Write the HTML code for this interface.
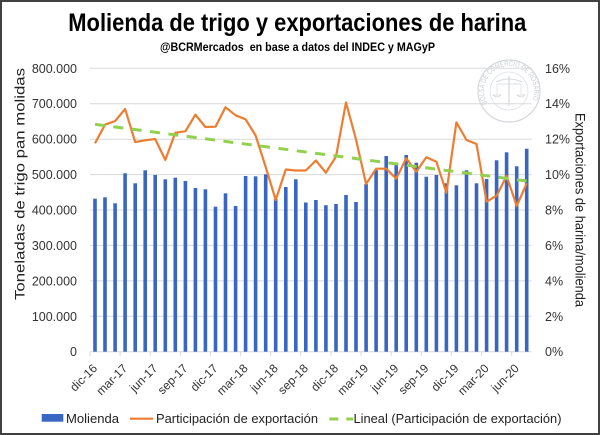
<!DOCTYPE html>
<html>
<head>
<meta charset="utf-8">
<style>
  html,body{margin:0;padding:0;background:#fff;}
  svg{display:block;}
  text{font-family:"Liberation Sans",Arial,sans-serif;}
</style>
</head>
<body>
<svg width="600" height="435" viewBox="0 0 600 435" xmlns="http://www.w3.org/2000/svg">
  <rect x="0" y="0" width="600" height="435" fill="#fff"/>
  <rect x="1" y="1" width="598" height="433" fill="none" stroke="#404040" stroke-width="2"/>

  <!-- Title -->
  <text x="68.3" y="31" font-size="25" font-weight="bold" fill="#000" textLength="458" lengthAdjust="spacingAndGlyphs">Molienda de trigo y exportaciones de harina</text>
  <text x="160" y="51" font-size="11.5" font-weight="bold" fill="#000" textLength="275" lengthAdjust="spacingAndGlyphs">@BCRMercados&#160; en base a datos del INDEC y MAGyP</text>

  <!-- Watermark seal -->
  <defs>
    <path id="sealArc" d="M 487.35 103.5 A 25 25 0 1 1 530.65 103.5"/>
  </defs>
  <g opacity="0.6">
    <circle cx="509" cy="91" r="31" fill="none" stroke="#b9bdc6" stroke-width="1.2"/>
    <circle cx="509" cy="91" r="19" fill="none" stroke="#c8ccd3" stroke-width="0.8"/>
    <text font-size="7.5" fill="#a9afb9" textLength="100" lengthAdjust="spacingAndGlyphs"><textPath href="#sealArc" startOffset="0" textLength="100" lengthAdjust="spacingAndGlyphs">BOLSA DE COMERCIO DE ROSARIO</textPath></text>
    <line x1="509" y1="76" x2="509" y2="106" stroke="#b9bdc6" stroke-width="1.2"/>
    <path d="M496 82 Q509 76 522 82" fill="none" stroke="#b9bdc6" stroke-width="1"/>
    <line x1="497" y1="84" x2="521" y2="84" stroke="#b9bdc6" stroke-width="0.8"/>
    <path d="M493 95 Q497 99 501 95 Z M517 95 Q521 99 525 95 Z" fill="none" stroke="#b9bdc6" stroke-width="0.8"/>
    <line x1="497" y1="84" x2="497" y2="95" stroke="#b9bdc6" stroke-width="0.6"/>
    <line x1="521" y1="84" x2="521" y2="95" stroke="#b9bdc6" stroke-width="0.6"/>
  </g>

  <!-- Gridlines -->
  <g stroke="#d9d9d9" stroke-width="1">
    <line x1="90" y1="68.3" x2="531.7" y2="68.3"/>
    <line x1="90" y1="103.7" x2="531.7" y2="103.7"/>
    <line x1="90" y1="139.2" x2="531.7" y2="139.2"/>
    <line x1="90" y1="174.6" x2="531.7" y2="174.6"/>
    <line x1="90" y1="210.0" x2="531.7" y2="210.0"/>
    <line x1="90" y1="245.4" x2="531.7" y2="245.4"/>
    <line x1="90" y1="280.9" x2="531.7" y2="280.9"/>
    <line x1="90" y1="316.3" x2="531.7" y2="316.3"/>
    <line x1="90" y1="351.7" x2="531.7" y2="351.7"/>
  </g>
  <!-- x ticks -->
  <g stroke="#d9d9d9" stroke-width="1">
    <line x1="90" y1="351.7" x2="90" y2="356"/>
    <line x1="120.1" y1="351.7" x2="120.1" y2="356"/>
    <line x1="150.2" y1="351.7" x2="150.2" y2="356"/>
    <line x1="180.4" y1="351.7" x2="180.4" y2="356"/>
    <line x1="210.5" y1="351.7" x2="210.5" y2="356"/>
    <line x1="240.6" y1="351.7" x2="240.6" y2="356"/>
    <line x1="270.7" y1="351.7" x2="270.7" y2="356"/>
    <line x1="300.8" y1="351.7" x2="300.8" y2="356"/>
    <line x1="331.0" y1="351.7" x2="331.0" y2="356"/>
    <line x1="361.1" y1="351.7" x2="361.1" y2="356"/>
    <line x1="391.2" y1="351.7" x2="391.2" y2="356"/>
    <line x1="421.3" y1="351.7" x2="421.3" y2="356"/>
    <line x1="451.4" y1="351.7" x2="451.4" y2="356"/>
    <line x1="481.6" y1="351.7" x2="481.6" y2="356"/>
    <line x1="511.7" y1="351.7" x2="511.7" y2="356"/>
  </g>

  <!-- Bars -->
  <g fill="#3866c2">
    <rect x="93.2" y="198.7" width="3.6" height="153"/>
    <rect x="103.2" y="197.3" width="3.6" height="154.4"/>
    <rect x="113.3" y="203.3" width="3.6" height="148.4"/>
    <rect x="123.3" y="173.3" width="3.6" height="178.4"/>
    <rect x="133.4" y="183.3" width="3.6" height="168.4"/>
    <rect x="143.4" y="170.3" width="3.6" height="181.4"/>
    <rect x="153.4" y="175" width="3.6" height="176.7"/>
    <rect x="163.5" y="179.3" width="3.6" height="172.4"/>
    <rect x="173.5" y="177.7" width="3.6" height="174"/>
    <rect x="183.6" y="181" width="3.6" height="170.7"/>
    <rect x="193.6" y="188" width="3.6" height="163.7"/>
    <rect x="203.6" y="189.3" width="3.6" height="162.4"/>
    <rect x="213.7" y="206.7" width="3.6" height="145"/>
    <rect x="223.7" y="193.3" width="3.6" height="158.4"/>
    <rect x="233.8" y="206" width="3.6" height="145.7"/>
    <rect x="243.8" y="176" width="3.6" height="175.7"/>
    <rect x="253.8" y="176.3" width="3.6" height="175.4"/>
    <rect x="263.9" y="174.3" width="3.6" height="177.4"/>
    <rect x="273.9" y="199" width="3.6" height="152.7"/>
    <rect x="284.0" y="187" width="3.6" height="164.7"/>
    <rect x="294.0" y="179.3" width="3.6" height="172.4"/>
    <rect x="304.0" y="202.5" width="3.6" height="149.2"/>
    <rect x="314.1" y="200" width="3.6" height="151.7"/>
    <rect x="324.1" y="205.2" width="3.6" height="146.5"/>
    <rect x="334.2" y="204" width="3.6" height="147.7"/>
    <rect x="344.2" y="195" width="3.6" height="156.7"/>
    <rect x="354.2" y="202" width="3.6" height="149.7"/>
    <rect x="364.3" y="184" width="3.6" height="167.7"/>
    <rect x="374.3" y="170" width="3.6" height="181.7"/>
    <rect x="384.4" y="156" width="3.6" height="195.7"/>
    <rect x="394.4" y="164.3" width="3.6" height="187.4"/>
    <rect x="404.4" y="155" width="3.6" height="196.7"/>
    <rect x="414.5" y="162.7" width="3.6" height="189"/>
    <rect x="424.5" y="176.7" width="3.6" height="175"/>
    <rect x="434.6" y="175" width="3.6" height="176.7"/>
    <rect x="444.6" y="183.3" width="3.6" height="168.4"/>
    <rect x="454.6" y="185.3" width="3.6" height="166.4"/>
    <rect x="464.7" y="170.3" width="3.6" height="181.4"/>
    <rect x="474.7" y="183.3" width="3.6" height="168.4"/>
    <rect x="484.8" y="179" width="3.6" height="172.7"/>
    <rect x="494.8" y="160.3" width="3.6" height="191.4"/>
    <rect x="504.8" y="152.3" width="3.6" height="199.4"/>
    <rect x="514.9" y="166.3" width="3.6" height="185.4"/>
    <rect x="524.9" y="148.7" width="3.6" height="203"/>
  </g>

  <!-- Orange line -->
  <polyline fill="none" stroke="#ed7d31" stroke-width="2.2" stroke-linejoin="round" points="
    95.0,143.3 105.0,124.7 115.1,121 125.1,109 135.2,142 145.2,140.3 155.2,139 165.3,160 175.3,132.7 185.4,131.3
    195.4,114.7 205.4,127 215.5,126.7 225.5,107.3 235.6,115.3 245.6,119.3 255.6,135.5 265.7,167 275.7,200 285.8,169.5
    295.8,170.5 305.8,170.5 315.9,160.5 325.9,172.7 336.0,156.5 346.0,102.5 356.0,139.5 366.1,184 376.1,168.7 386.2,168.7
    396.2,178.7 406.2,158.3 416.3,171.7 426.3,157.3 436.4,161.7 446.4,192.7 456.4,122.3 466.5,140 476.5,144 486.6,201.7
    496.6,195.7 506.6,176 516.7,206 526.7,183.3"/>

  <!-- Trend line -->
  <line x1="95" y1="124.3" x2="526.7" y2="181" stroke="#92d050" stroke-width="3" stroke-dasharray="10 8.5"/>

  <!-- Left axis labels -->
  <g font-size="12.5" fill="#333" text-anchor="end">
    <text x="77" y="72.8">800.000</text>
    <text x="77" y="108.2">700.000</text>
    <text x="77" y="143.7">600.000</text>
    <text x="77" y="179.1">500.000</text>
    <text x="77" y="214.5">400.000</text>
    <text x="77" y="249.9">300.000</text>
    <text x="77" y="285.4">200.000</text>
    <text x="77" y="320.8">100.000</text>
    <text x="77" y="356.2">0</text>
  </g>
  <!-- Right axis labels -->
  <g font-size="12.5" fill="#333">
    <text x="545" y="72.8">16%</text>
    <text x="545" y="108.2">14%</text>
    <text x="545" y="143.7">12%</text>
    <text x="545" y="179.1">10%</text>
    <text x="545" y="214.5">8%</text>
    <text x="545" y="249.9">6%</text>
    <text x="545" y="285.4">4%</text>
    <text x="545" y="320.8">2%</text>
    <text x="545" y="356.2">0%</text>
  </g>

  <!-- Axis titles -->
  <text transform="translate(24.5,184) rotate(-90)" font-size="14" fill="#222" text-anchor="middle" textLength="232" lengthAdjust="spacingAndGlyphs">Toneladas de trigo pan molidas</text>
  <text transform="translate(575.5,210) rotate(90)" font-size="14" fill="#222" text-anchor="middle" textLength="194" lengthAdjust="spacingAndGlyphs">Exportaciones de harina/molienda</text>

  <!-- X labels -->
  <g font-size="12" fill="#333" text-anchor="end">
    <text transform="translate(98.0,369) rotate(-45)">dic-16</text>
    <text transform="translate(128.1,369) rotate(-45)">mar-17</text>
    <text transform="translate(158.2,369) rotate(-45)">jun-17</text>
    <text transform="translate(188.4,369) rotate(-45)">sep-17</text>
    <text transform="translate(218.5,369) rotate(-45)">dic-17</text>
    <text transform="translate(248.6,369) rotate(-45)">mar-18</text>
    <text transform="translate(278.7,369) rotate(-45)">jun-18</text>
    <text transform="translate(308.8,369) rotate(-45)">sep-18</text>
    <text transform="translate(339.0,369) rotate(-45)">dic-18</text>
    <text transform="translate(369.1,369) rotate(-45)">mar-19</text>
    <text transform="translate(399.2,369) rotate(-45)">jun-19</text>
    <text transform="translate(429.3,369) rotate(-45)">sep-19</text>
    <text transform="translate(459.4,369) rotate(-45)">dic-19</text>
    <text transform="translate(489.6,369) rotate(-45)">mar-20</text>
    <text transform="translate(519.7,369) rotate(-45)">jun-20</text>
  </g>

  <!-- Legend -->
  <rect x="41.7" y="414" width="21.6" height="7.7" fill="#3866c2"/>
  <text x="66" y="423" font-size="13" fill="#222" textLength="53" lengthAdjust="spacingAndGlyphs">Molienda</text>
  <line x1="130" y1="418.7" x2="153" y2="418.7" stroke="#ed7d31" stroke-width="2.2"/>
  <text x="156" y="423" font-size="13" fill="#222" textLength="162" lengthAdjust="spacingAndGlyphs">Participación de exportación</text>
  <line x1="329.3" y1="419" x2="353.3" y2="419" stroke="#92d050" stroke-width="3" stroke-dasharray="9 8"/>
  <text x="353.5" y="423" font-size="13" fill="#222" textLength="208" lengthAdjust="spacingAndGlyphs">Lineal (Participación de exportación)</text>
</svg>
</body>
</html>
